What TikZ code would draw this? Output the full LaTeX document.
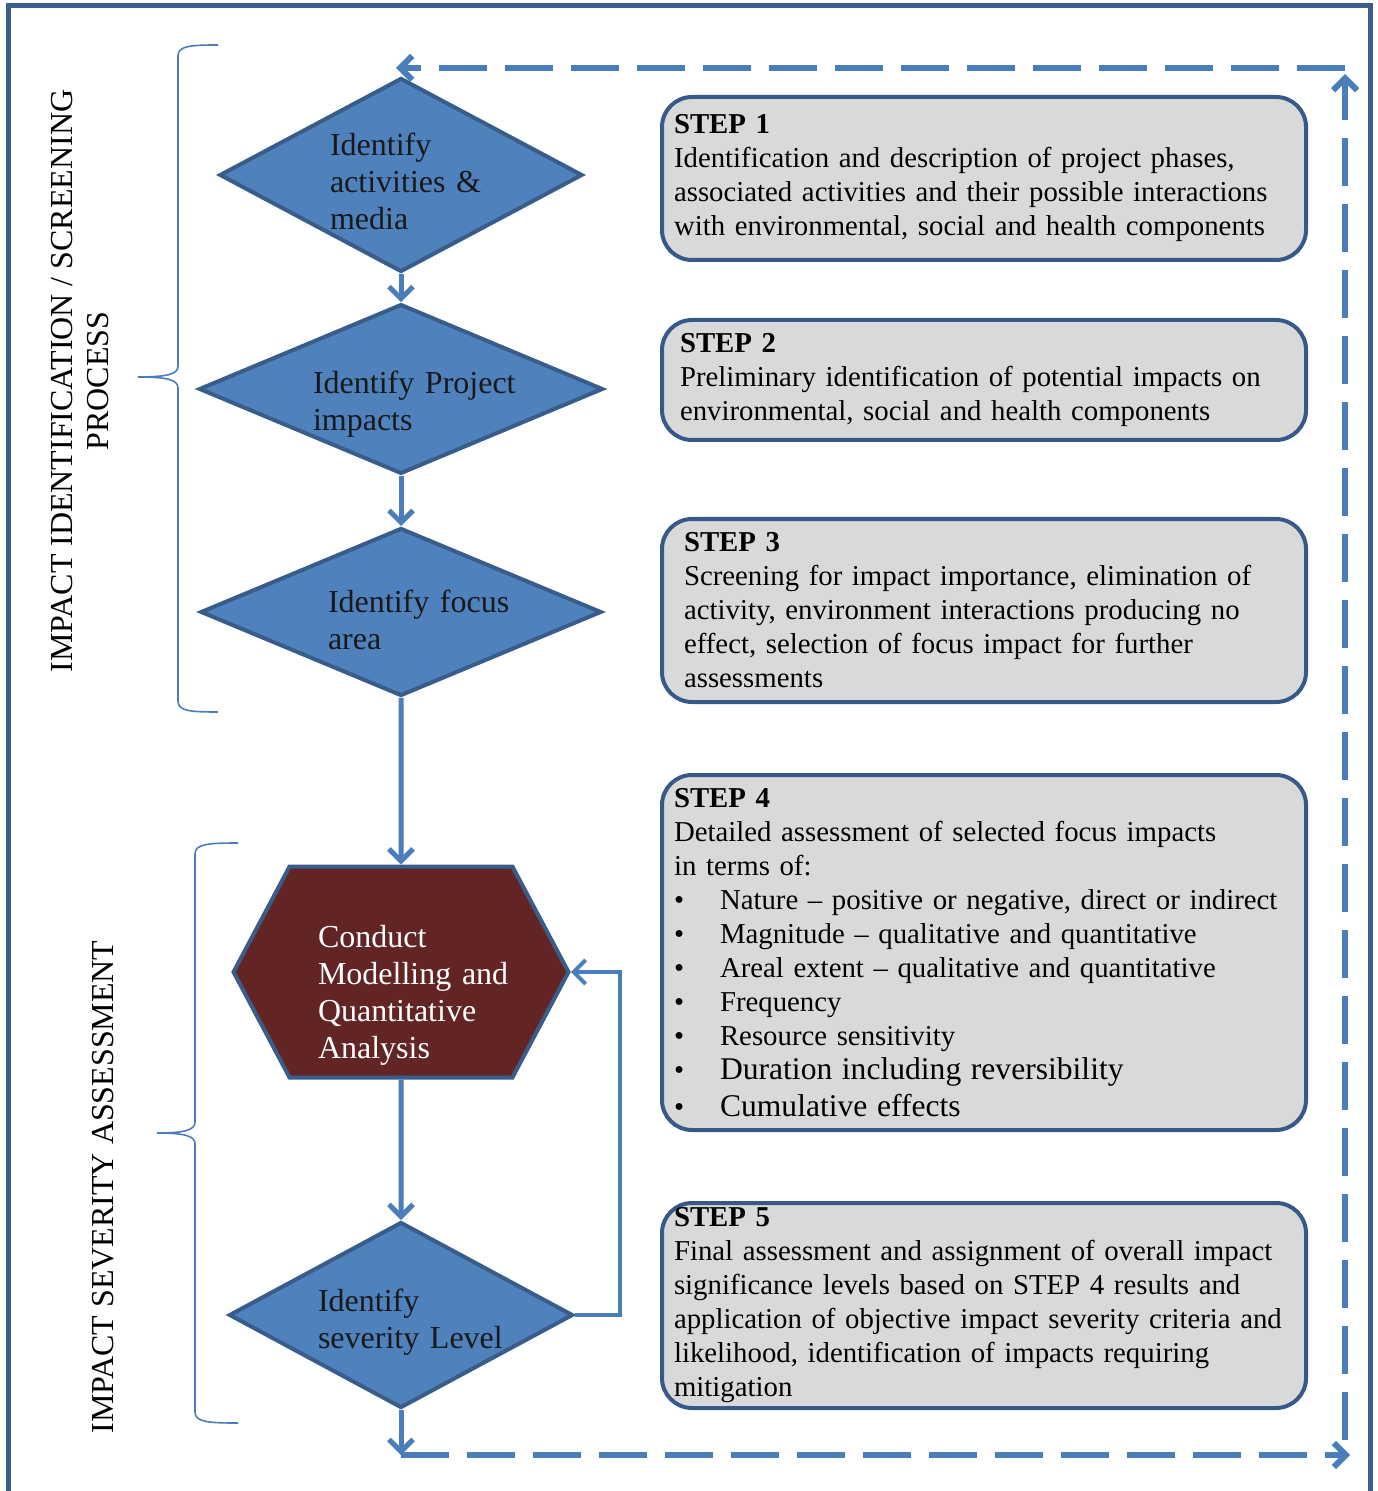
\documentclass[tikz,border=0pt]{standalone}
\usepackage{fontspec}
\setmainfont{Liberation Serif}
\usepackage{tikz}
\usetikzlibrary{positioning}
\usetikzlibrary{shapes,arrows.meta}
\definecolor{nodeblue}{HTML}{4F81BD}
\definecolor{edgeblue}{HTML}{385D8A}
\definecolor{linkblue}{HTML}{4A7EBB}
\definecolor{boxgray}{HTML}{D9D9D9}
\definecolor{boxedge}{HTML}{36598A}
\definecolor{hexred}{HTML}{632523}
\definecolor{frameblue}{HTML}{3A5F8F}
\tikzset{
    decision/.style={
           diamond,
           draw=edgeblue, line width=2pt,
           fill=nodeblue,
           inner sep=0pt,
           align=left,
           text=black!90,
           font=\fontsize{16}{18.5}\selectfont
           },
    process/.style={
           signal, signal to=west and east,
           signal pointer angle=124,
           draw=edgeblue, line width=2pt,
           fill=hexred,
           inner sep=0pt,
           align=left,
           text=white,
           font=\fontsize{16}{18.5}\selectfont
           },
    stepbox/.style={
           rectangle,
           rounded corners=15pt,
           draw=boxedge, line width=2pt,
           fill=boxgray,
           minimum width=322pt,
           text width=310pt,
           inner xsep=6pt, inner ysep=0pt,
           align=left,
           font=\fontsize{14.4}{17}\selectfont
           },
    flow/.style={->, draw=linkblue, line width=2.5pt},
    feedback/.style={->, draw=linkblue, line width=2pt},
    dashflow/.style={->, draw=linkblue, line width=3pt,
           dash pattern=on 24pt off 9pt},
    bracket/.style={draw=linkblue, line width=0.8pt},
    sidetext/.style={
           rotate=90,
           align=center,
           font=\fontsize{16}{18}\selectfont
           },
}
\newcommand{\bul}{\makebox[23pt][l]{\textbullet}}
\newcommand{\pushdown}[1]{\rule{0pt}{#1}}

\begin{document}
\begin{tikzpicture}[x=0.5pt, y=-0.5pt, >={Straight Barb[length=6pt,width=12pt]},
    node distance=100pt, on grid]
  \useasboundingbox (0,0) rectangle (1377,1491);
  \draw[draw=frameblue, line width=2.5pt] (8,6) rectangle (1370,1520);

     \node[decision, aspect=1.87, minimum width=181.5pt, minimum height=97pt,
           text width=71pt] (a) at (401,175)
        {\pushdown{18pt}Identify\\\mbox{activities \&}\\media};
     \node[decision, aspect=2.38, minimum width=200pt, minimum height=84pt,
           text width=88pt] (b) [below=107pt of a]
        {\pushdown{26pt}\mbox{Identify Project}\\impacts};
     \node[decision, aspect=2.39, minimum width=200.5pt, minimum height=84pt,
           text width=73pt] (c) [below=111.5pt of b]
        {\pushdown{19pt}\mbox{Identify focus}\\area};
     \node[process, minimum width=167.5pt, minimum height=105.5pt,
           text width=83pt] (d) [below=180pt of c]
        {\pushdown{34pt}Conduct\\\mbox{Modelling and}\\Quantitative\\Analysis};
     \node[decision, aspect=1.85, minimum width=172pt, minimum height=93pt,
           text width=83pt] (e) [below=171.5pt of d]
        {\pushdown{18pt}Identify\\\mbox{severity Level}};

     \node[stepbox, minimum height=81.5pt] (s1) at (984,178.5)
        {\textbf{STEP 1}\\Identification and description of project phases,\\
         associated activities and their possible interactions\\
         with environmental, social and health components};
     \node[stepbox, minimum height=60pt, inner xsep=9pt, text width=304pt] (s2) at (984,380)
        {\textbf{STEP 2}\\Preliminary identification of potential impacts on\\
         environmental, social and health components};
     \node[stepbox, minimum height=91.5pt, inner xsep=11pt, text width=300pt] (s3) at (984,610.5)
        {\textbf{STEP 3}\\Screening for impact importance, elimination of\\
         activity, environment interactions producing no\\
         effect, selection of focus impact for further\\
         assessments};
     \node[stepbox, minimum height=177.5pt] (s4) at (984,952.5)
        {\textbf{STEP 4}\\Detailed assessment of selected focus impacts\\
         in terms of:\\
         \bul Nature -- positive or negative, direct or indirect\\
         \bul Magnitude -- qualitative and quantitative\\
         \bul Areal extent -- qualitative and quantitative\\
         \bul Frequency\\
         \bul Resource sensitivity\\
         \bul {\fontsize{15.8}{17}\selectfont Duration including reversibility}\\[1.5pt]
         \bul {\fontsize{15.8}{17}\selectfont Cumulative effects}};
     \node[stepbox, minimum height=102.5pt] (s5) at (984,1305.5)
        {\textbf{STEP 5}\\Final assessment and assignment of overall impact\\
         significance levels based on STEP 4 results and\\
         application of objective impact severity criteria and\\
         likelihood, identification of impacts requiring\\
         mitigation};

     \node[sidetext] (l1) at (80,381) {IMPACT IDENTIFICATION / SCREENING\\PROCESS};
     \node[sidetext] (l2) at (103,1187) {IMPACT SEVERITY ASSESSMENT};

     \coordinate (p) at (401,1455);
     \coordinate (q) at (1350,1455);
     \coordinate (r) at (1345,1440);
     \coordinate (s) at (1345,74);
     \coordinate (t) at (1345,68);
     \coordinate (u) at (396,68);

     \path[flow]
      (a) edge (b)
      (b) edge (c)
      (c) edge (d)
      (d) edge (e);
     \draw[flow] (e) -- (p);
     \draw[feedback] (e.east) -- ++(45,0) |- (d.east);

     \draw[dashflow] (p) -- (q);
     \draw[dashflow] (r) -- (s);
     \draw[dashflow] (t) -- (u);

     \draw[bracket] (218,45) .. controls (190,45) and (178,46) .. (178,56)
        -- (178,366) .. controls (178,374) and (168,377) .. (138,377)
        .. controls (168,377) and (178,380) .. (178,388)
        -- (178,701) .. controls (178,711) and (190,712) .. (218,712);
     \draw[bracket] (238,843) .. controls (208,843) and (195,844) .. (195,854)
        -- (195,1122) .. controls (195,1130) and (185,1133) .. (157,1133)
        .. controls (185,1133) and (195,1136) .. (195,1144)
        -- (195,1412) .. controls (195,1422) and (208,1423) .. (238,1423);
  \end{tikzpicture}
\end{document}
